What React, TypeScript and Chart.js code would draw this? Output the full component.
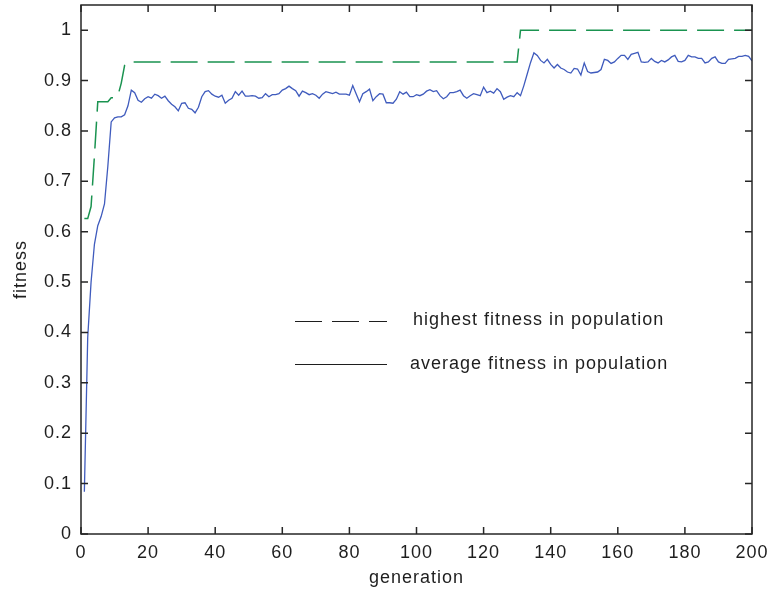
import React, { useEffect, useRef } from 'react';
import { Chart, registerables } from 'chart.js';

Chart.register(...registerables);

// x tick values / labels
const xTicks = [0, 20, 40, 60, 80, 100, 120, 140, 160, 180, 200];
const xTickLabels = ['0', '20', '40', '60', '80', '100', '120', '140', '160', '180', '200'];
// y tick values / labels
const yTicks = [0, 0.1, 0.2, 0.3, 0.4, 0.5, 0.6, 0.7, 0.8, 0.9, 1];
const yTickLabels = ['0', '0.1', '0.2', '0.3', '0.4', '0.5', '0.6', '0.7', '0.8', '0.9', '1'];

// highest fitness in population (breakpoints of the step curve)
const highestGen = [1, 2, 3, 4, 5, 8, 9, 10, 11, 12, 13, 14, 130, 131, 200];
const highestFitness = [0.626, 0.626, 0.65, 0.75, 0.858, 0.858, 0.866, 0.866, 0.870, 0.895, 0.930, 0.937, 0.937, 1.0, 1.0];

// average fitness in population, generations 1..200
const averageFitness = [
  0.084, 0.39, 0.50, 0.575, 0.612, 0.63, 0.655, 0.73, 0.818, 0.826,
  0.828, 0.828, 0.832, 0.85, 0.881, 0.876, 0.861, 0.857, 0.864, 0.868,
  0.865, 0.873, 0.870, 0.865, 0.869, 0.860, 0.853, 0.848, 0.840, 0.855,
  0.856, 0.845, 0.843, 0.836, 0.847, 0.868, 0.878, 0.880, 0.873, 0.869,
  0.867, 0.871, 0.855, 0.861, 0.865, 0.878, 0.871, 0.879, 0.869, 0.869,
  0.870, 0.869, 0.865, 0.866, 0.874, 0.868, 0.872, 0.872, 0.874, 0.881,
  0.884, 0.889, 0.884, 0.880, 0.869, 0.879, 0.876, 0.872, 0.874, 0.871,
  0.865, 0.873, 0.878, 0.876, 0.874, 0.877, 0.873, 0.873, 0.873, 0.871,
  0.890, 0.874, 0.858, 0.874, 0.878, 0.883, 0.860, 0.868, 0.874, 0.873,
  0.856, 0.856, 0.855, 0.863, 0.878, 0.873, 0.877, 0.868, 0.868, 0.872,
  0.870, 0.873, 0.879, 0.882, 0.878, 0.880, 0.870, 0.864, 0.868, 0.876,
  0.876, 0.878, 0.881, 0.870, 0.865, 0.870, 0.874, 0.872, 0.870, 0.887,
  0.876, 0.879, 0.875, 0.884, 0.878, 0.863, 0.867, 0.870, 0.868, 0.876,
  0.870, 0.890, 0.913, 0.936, 0.955, 0.950, 0.940, 0.935, 0.942, 0.932,
  0.925, 0.932, 0.925, 0.922, 0.917, 0.915, 0.924, 0.923, 0.911, 0.935,
  0.918, 0.915, 0.916, 0.917, 0.922, 0.942, 0.940, 0.934, 0.937, 0.944,
  0.950, 0.950, 0.942, 0.952, 0.954, 0.956, 0.937, 0.936, 0.937, 0.944,
  0.938, 0.935, 0.940, 0.937, 0.941, 0.947, 0.950, 0.938, 0.937, 0.940,
  0.950, 0.947, 0.947, 0.944, 0.944, 0.935, 0.937, 0.944, 0.947, 0.937,
  0.934, 0.934, 0.942, 0.943, 0.944, 0.948, 0.948, 0.950, 0.948, 0.939,
];

const legendLabels = ['highest fitness in population', 'average fitness in population'];

const FONT = '"Liberation Sans", Arial, sans-serif';
const TEXT = '#1e1e1e';
const GREEN = '#1a9350';
const BLUE = '#3f5bbd';

const framePlugin = {
  id: 'matlabFrame',
  beforeInit(chart: any) {
    chart.ctx.letterSpacing = '1px';
  },
  beforeUpdate(chart: any) {
    chart.ctx.letterSpacing = '1px';
  },
  beforeDraw(chart: any) {
    chart.ctx.letterSpacing = '1px';
  },
  afterDraw(chart: any) {
    const { ctx, chartArea, scales } = chart;
    const { left, right, top, bottom } = chartArea;
    const x = scales.x;
    const y = scales.y;
    ctx.save();
    ctx.setLineDash([]);
    ctx.strokeStyle = '#262626';
    ctx.lineWidth = 1.5;
    ctx.beginPath();
    const tl = 7;
    xTicks.forEach((v) => {
      const px = x.getPixelForValue(v);
      ctx.moveTo(px, bottom);
      ctx.lineTo(px, bottom - tl);
      ctx.moveTo(px, top);
      ctx.lineTo(px, top + tl);
    });
    yTicks.forEach((v) => {
      const py = y.getPixelForValue(v);
      ctx.moveTo(left, py);
      ctx.lineTo(left + tl, py);
      ctx.moveTo(right, py);
      ctx.lineTo(right - tl, py);
    });
    ctx.stroke();
    ctx.strokeRect(left, top, right - left, bottom - top);

    // legend
    ctx.strokeStyle = '#1e1e1e';
    ctx.lineWidth = 1;
    ctx.setLineDash([27, 10]);
    ctx.beginPath();
    ctx.moveTo(295, 321.5);
    ctx.lineTo(387, 321.5);
    ctx.stroke();
    ctx.setLineDash([]);
    ctx.beginPath();
    ctx.moveTo(295, 364.5);
    ctx.lineTo(387, 364.5);
    ctx.stroke();
    ctx.fillStyle = TEXT;
    ctx.font = '18px ' + FONT;
    ctx.textBaseline = 'middle';
    ctx.textAlign = 'left';
    ctx.fillText(legendLabels[0], 413, 320);
    ctx.fillText(legendLabels[1], 410, 364);
    ctx.restore();
  },
};

const zeroPadding = (s: any) => {
  s.paddingTop = 0;
  s.paddingBottom = 0;
  s.paddingLeft = 0;
  s.paddingRight = 0;
};

export default function App() {
  const ref = useRef<HTMLCanvasElement | null>(null);

  useEffect(() => {
    if (!ref.current) return;
    const avgData = averageFitness.map((v, i) => ({ x: i + 1, y: v }));
    const maxData = highestGen.map((g, i) => ({ x: g, y: highestFitness[i] }));
    const chart = new Chart(ref.current, {
      type: 'line',
      data: {
        datasets: [
          {
            label: legendLabels[0],
            data: maxData,
            borderColor: GREEN,
            borderWidth: 1.5,
            borderDash: [27, 10],
            pointRadius: 0,
            tension: 0,
            fill: false,
          },
          {
            label: legendLabels[1],
            data: avgData,
            borderColor: BLUE,
            borderWidth: 1.3,
            pointRadius: 0,
            tension: 0,
            fill: false,
          },
        ],
      },
      options: {
        responsive: false,
        animation: false,
        devicePixelRatio: 1,
        layout: { padding: { left: 0, right: 18, top: 5, bottom: 0 } },
        plugins: {
          legend: { display: false },
          tooltip: { enabled: false },
        },
        scales: {
          x: {
            type: 'linear',
            min: 0,
            max: 200,
            afterBuildTicks: (s: any) => {
              s.ticks = xTicks.map((v) => ({ value: v }));
            },
            afterFit: (s: any) => {
              s.height = 58;
              zeroPadding(s);
            },
            grid: { display: false, drawTicks: false, tickLength: 0 },
            border: { display: false },
            ticks: {
              color: TEXT,
              font: { family: FONT, size: 18 },
              padding: 8,
              maxRotation: 0,
              autoSkip: false,
              callback: (_v: any, i: number) => xTickLabels[i],
            },
            title: {
              display: true,
              text: 'generation',
              color: TEXT,
              font: { family: FONT, size: 18, lineHeight: 1.2 },
              padding: { top: 0, bottom: 3 },
            },
          },
          y: {
            type: 'linear',
            min: 0,
            max: 1.05,
            afterBuildTicks: (s: any) => {
              s.ticks = yTicks.map((v) => ({ value: v }));
            },
            afterFit: (s: any) => {
              s.width = 81;
              zeroPadding(s);
            },
            grid: { display: false, drawTicks: false, tickLength: 0 },
            border: { display: false },
            ticks: {
              color: TEXT,
              font: { family: FONT, size: 18 },
              padding: 9,
              autoSkip: false,
              callback: (_v: any, i: number) => yTickLabels[i],
            },
            title: {
              display: true,
              text: 'fitness',
              color: TEXT,
              font: { family: FONT, size: 18, lineHeight: 1.2 },
              padding: { top: 10, bottom: 0 },
            },
          },
        },
      },
      plugins: [framePlugin],
    } as any);
    return () => chart.destroy();
  }, []);

  return (
    <div style={{ position: 'absolute', left: 0, top: 0, width: 770, height: 592, background: '#fff' }}>
      <canvas ref={ref} width={770} height={592} style={{ display: 'block' }} />
    </div>
  );
}
